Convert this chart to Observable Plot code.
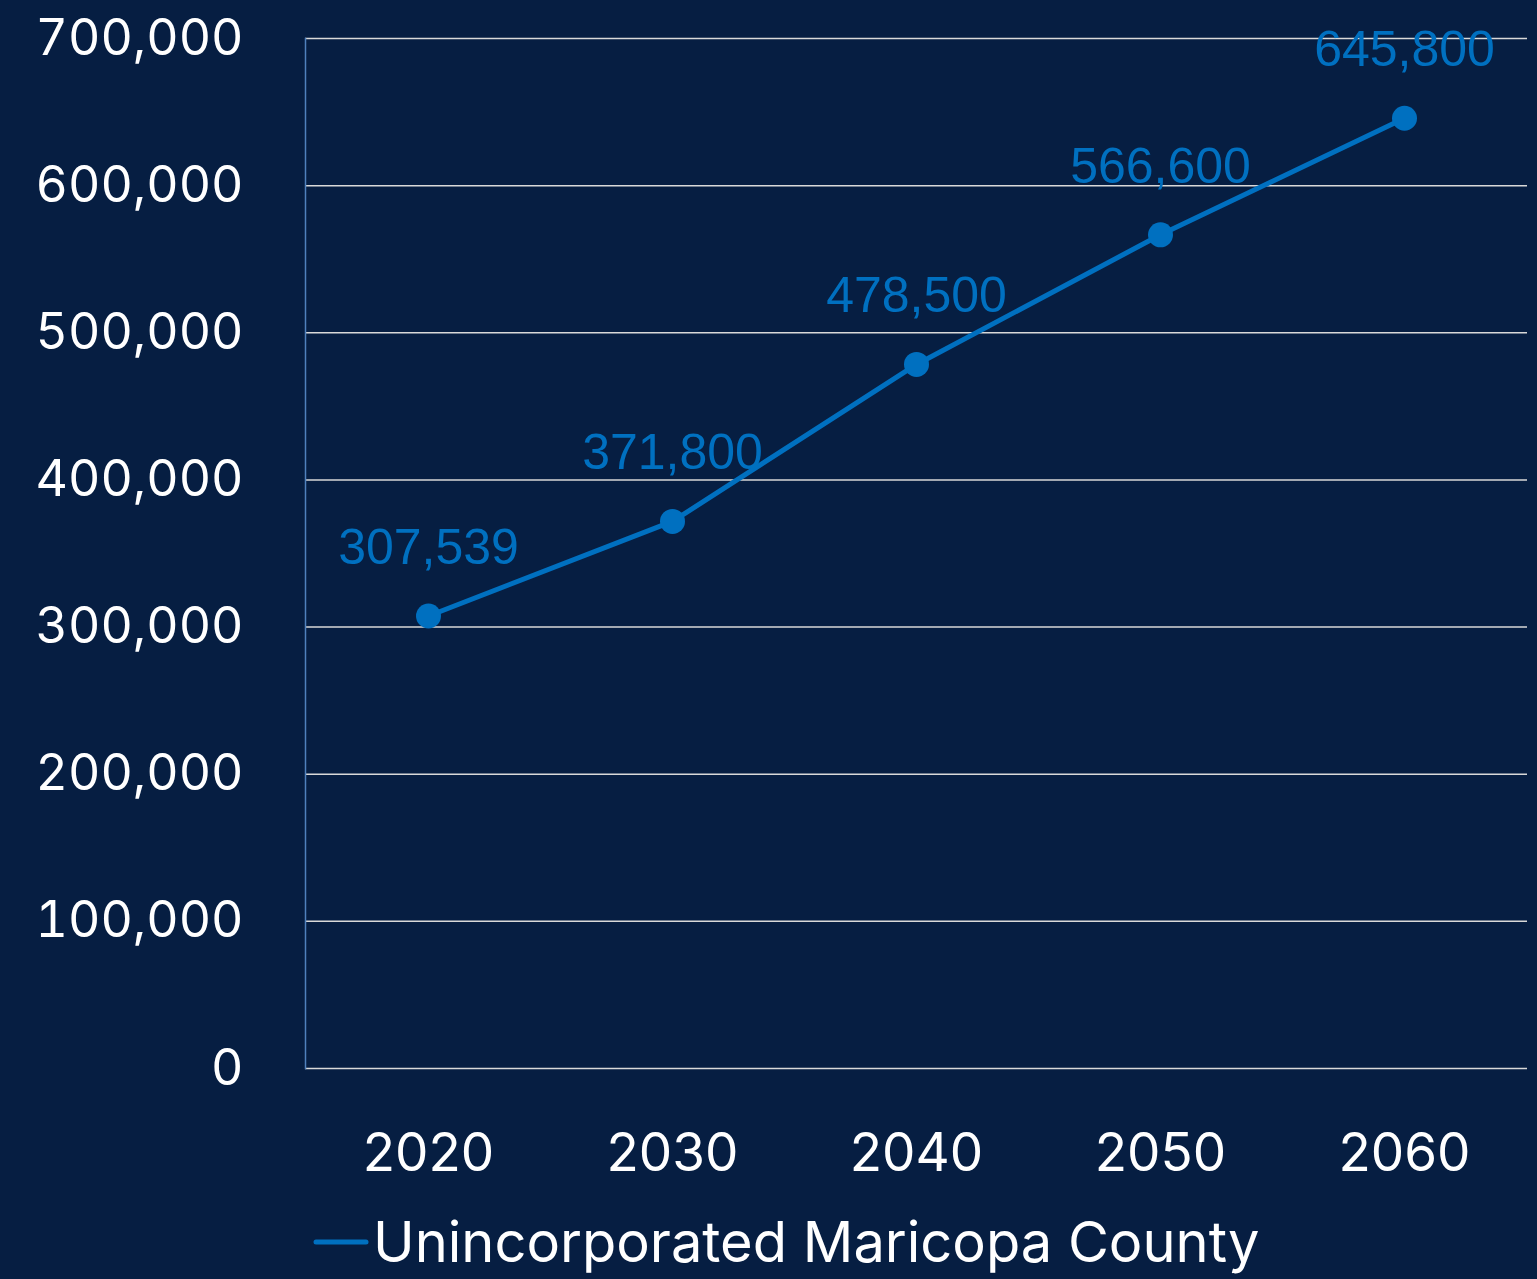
<!DOCTYPE html>
<html>
<head>
<meta charset="utf-8">
<script src="https://cdn.jsdelivr.net/npm/d3@7"></script>
<script src="https://cdn.jsdelivr.net/npm/@observablehq/plot@0.6"></script>
<style>
  html, body { margin: 0; padding: 0; background: #061e42; width: 1537px; height: 1279px; overflow: hidden; }
  #chart svg { display: block; }
  #legend { display: flex; align-items: center; margin-left: 313px; margin-top: 2px; height: 70px; }
  #legend span { font-family: Inter, "Noto Sans", sans-serif; font-size: 56px; color: #ffffff; margin-left: 4px; line-height: 1; }
</style>
</head>
<body>
<div id="chart"></div>
<div id="legend"></div>
<script>
const years = ["2020", "2030", "2040", "2050", "2060"];
const population = [307539, 371800, 478500, 566600, 645800];
const valueLabels = ["307,539", "371,800", "478,500", "566,600", "645,800"];
const yTicks = [0, 100000, 200000, 300000, 400000, 500000, 600000, 700000];
const seriesName = "Unincorporated Maricopa County";

const data = years.map((y, i) => ({year: y, value: population[i], label: valueLabels[i]}));

const lineColor = "#0070c0";
const bg = "#061e42";

const chart = Plot.plot({
  width: 1537,
  height: 1205,
  marginLeft: 305,
  marginRight: 10,
  marginTop: 38,
  marginBottom: 137,
  style: {background: bg, color: "#ffffff", overflow: "visible"},
  x: {type: "band", domain: years, padding: 0},
  y: {domain: [0, 700000]},
  marks: [
    Plot.gridY(yTicks, {stroke: "#d9d9d9", strokeOpacity: 1, strokeWidth: 1.5}),
    Plot.frame({anchor: "left", stroke: "#4f81bd", strokeWidth: 1.5}),
    Plot.axisY(yTicks, {
      tickSize: 0, tickPadding: 62, label: null,
      tickFormat: d => d3.format(",")(d),
      fontSize: 50, fontFamily: "Inter, 'Noto Sans', sans-serif", fill: "#ffffff"
    }),
    Plot.axisX(years, {
      tickSize: 0, tickPadding: 65, label: null,
      fontSize: 53, fontFamily: "Inter, 'Noto Sans', sans-serif", fill: "#ffffff"
    }),
    Plot.line(data, {x: "year", y: "value", stroke: lineColor, strokeWidth: 5}),
    Plot.dot(data, {x: "year", y: "value", r: 12.5, fill: lineColor, stroke: null}),
    Plot.text(data, {
      x: "year", y: "value", text: "label", dy: -68,
      fill: lineColor, fontSize: 50, fontFamily: "'Liberation Sans', Arial, sans-serif"
    })
  ]
});
document.getElementById("chart").appendChild(chart);

const legend = document.getElementById("legend");
legend.innerHTML = `<svg width="56" height="10"><line x1="3" y1="5" x2="53" y2="5" stroke="${lineColor}" stroke-width="5" stroke-linecap="round"/></svg><span>${seriesName}</span>`;
</script>
</body>
</html>
